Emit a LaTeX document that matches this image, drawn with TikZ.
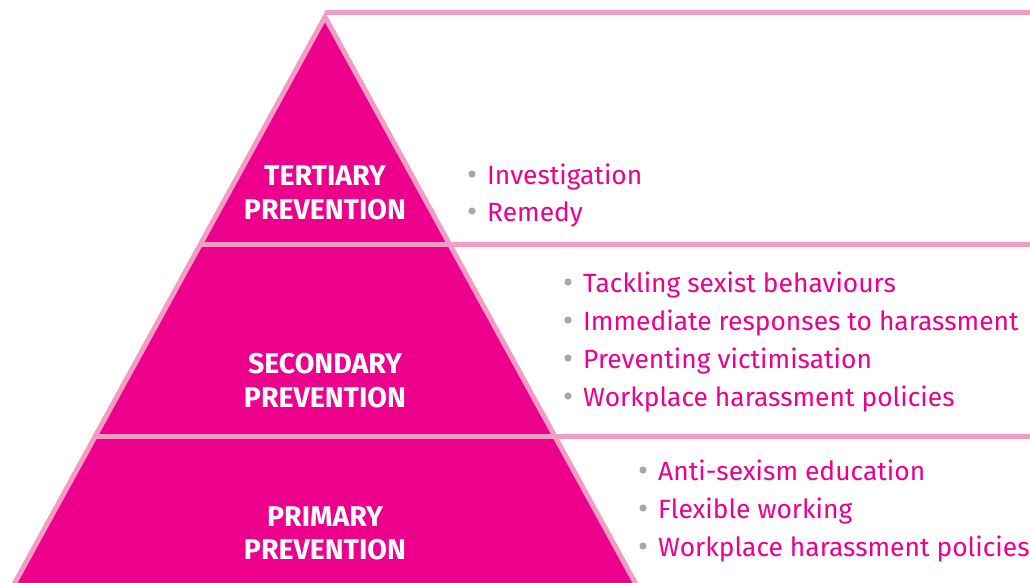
\documentclass[tikz,border=0pt]{standalone}
\usepackage{fontspec}
\setmainfont{Fira Sans}
\definecolor{pyrfill}{HTML}{EC008C}
\definecolor{pyredge}{HTML}{F29BC5}
\definecolor{dotgrey}{HTML}{A2A7B1}
\begin{document}
\begin{tikzpicture}[x=1pt,y=-1pt,
  level/.style={font=\fontsize{28.5}{33}\selectfont\bfseries, text=white, inner sep=0pt, anchor=base},
  item/.style={font=\fontsize{26.4}{38}\selectfont, text=pyrfill, inner sep=0pt, anchor=base west},
  rule/.style={draw=pyredge, line width=5pt},
  dot/.style={fill=dotgrey}]
\useasboundingbox (0,0) rectangle (1030,582);
\clip (0,0) rectangle (1030,582);

% pyramid outline points (base lies below the visible area)
\coordinate (apex) at (325,17);
\coordinate (bl) at (-22,650);
\coordinate (br) at (672,650);

% the pyramid body and its outline
\fill[pyrfill] (apex) -- (br) -- (bl) -- cycle;
\draw[rule, line join=miter] (bl) -- (apex) -- (br);

% top rule and level separators
\coordinate (topR) at (1030,12.5);
\draw[rule] (apex |- topR) -- (topR);
\coordinate (s1L) at (199,244.5);
\coordinate (s1R) at (1030,244.5);
\coordinate (s2L) at (93,436);
\coordinate (s2R) at (1030,436);
\draw[rule] (s1L) -- (s1R);
\draw[rule] (s2L) -- (s2R);

% level labels
\node[level] (tert1) at (325,185) {TERTIARY};
\node[level] (tert2) at (325,219) {PREVENTION};
\node[level] (sec1) at (325,373) {SECONDARY};
\node[level] (sec2) at (325,407) {PREVENTION};
\node[level] (prim1) at (325,526) {PRIMARY};
\node[level] (prim2) at (325,559) {PREVENTION};

% bullet items
\node[item] (t1) at (487,184) {Investigation};
\node[item] (t2) at (487,221) {Remedy};
\node[item] (s1) at (583,292) {Tackling sexist behaviours};
\node[item] (s2) at (583,330) {Immediate responses to harassment};
\node[item] (s3) at (583,368) {Preventing victimisation};
\node[item] (s4) at (583,406) {Workplace harassment policies};
\node[item] (p1) at (658,480) {Anti-sexism education};
\node[item] (p2) at (658,518) {Flexible working};
\node[item] (p3) at (658,556) {Workplace harassment policies};

\foreach \n in {t1,t2,s1,s2,s3,s4,p1,p2,p3}
  \fill[dot] ([xshift=-15pt,yshift=10pt]\n.base west) circle (3.6pt);
\end{tikzpicture}
\end{document}
